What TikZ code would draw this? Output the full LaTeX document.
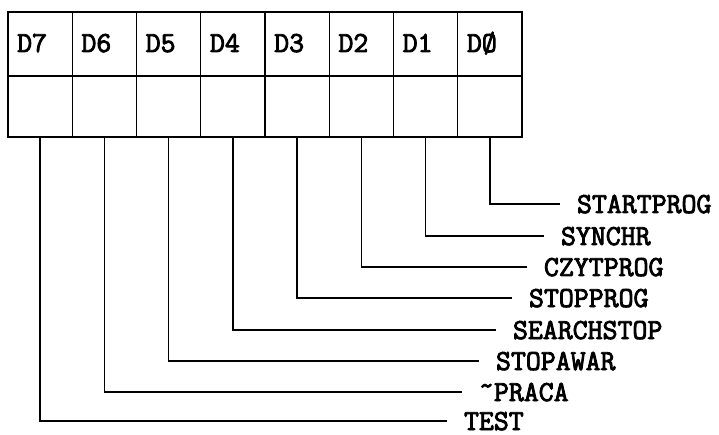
\documentclass[tikz,border=0pt]{standalone}
\usepackage{fontspec}
\newfontfamily\labfont[FakeBold=3]{Latin Modern Mono}
\begin{document}
\begin{tikzpicture}[x=1pt,y=-1pt,
  lfont/.style={font=\fontsize{29}{30}\selectfont\labfont},
  cellA/.style={draw,line width=1.4pt,minimum width=64.25pt,minimum height=64pt,inner sep=0pt,outer sep=0pt,anchor=north west},
  cellB/.style={draw,line width=1.4pt,minimum width=64.25pt,minimum height=61pt,inner sep=0pt,outer sep=0pt,anchor=north west},
  sig/.style={lfont,anchor=west,inner sep=0pt,outer sep=0pt,text height=18pt,text depth=0pt},
  wire/.style={line width=1.4pt}]
\useasboundingbox (0,0) rectangle (719,435);
% top row
\foreach \i/\t [count=\k from 0] in {7/D7,6/D6,5/D5,4/D4,3/D3,2/D2,1/D1,0/DØ}{
  \node[cellA] (t\i) at ({8+64.25*\k},12) {};
  \node[lfont,anchor=base west,inner sep=0pt] (lt\i) at ({17+64.25*\k},52) {\t};
  \node[cellB] (b\i) at ({8+64.25*\k},76) {};
}
% signal labels
\node[sig] (l0) at (577,204) {STARTPROG};
\node[sig] (l1) at (561,236) {SYNCHR};
\node[sig] (l2) at (544,267) {CZYTPROG};
\node[sig] (l3) at (529,298) {STOPPROG};
\node[sig] (l4) at (513,330) {SEARCHSTOP};
\node[sig] (l5) at (496,361) {STOPAWAR};
\node[sig] (l6) at (479,392) {\raisebox{0.22em}{\char`\~}PRACA};
\node[sig] (l7) at (464,421) {TEST};
\foreach \i in {0,...,7}{
  \draw[wire] (b\i.south) |- ([xshift=-17pt]l\i.west);
}
\end{tikzpicture}
\end{document}
